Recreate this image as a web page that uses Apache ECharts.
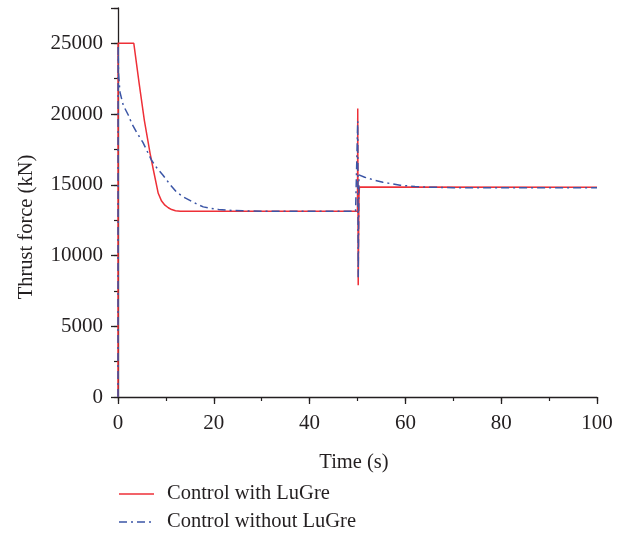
<!DOCTYPE html>
<html>
<head>
<meta charset="utf-8">
<script src="https://cdn.jsdelivr.net/npm/echarts@6/dist/echarts.min.js"></script>
<style>
  html, body { margin: 0; padding: 0; background: #fff; }
  #chart { width: 620px; height: 535px; }
</style>
</head>
<body>
<div id="chart"></div>
<script>
// Thrust force response, with and without LuGre friction compensation
const timeWith = [0, 0.02, 3.3, 4.4, 5.5, 6.2, 6.7, 7.4, 8.4, 9.1, 9.8, 10.5, 11.2, 12, 13, 50, 50.05, 50.15, 50.3, 50.4, 100];
const thrustWith = [0, 25000, 25000, 22200, 19560, 18200, 17230, 16030, 14400, 13850, 13560, 13380, 13250, 13170, 13135, 13135, 20400, 7900, 14100, 14850, 14830];

const timeWithout = [0, 0.03, 0.1, 0.4, 1.1, 2.2, 2.85, 4, 5.2, 7, 8.2, 9.4, 10.8, 12.2, 13.6, 15, 16.4, 17.8, 19.2, 21, 23, 26, 30, 49.6, 49.9, 50, 50.05, 50.15, 50.3, 50.5, 51.5, 53.3, 55.3, 58.9, 62, 65, 70, 100];
const thrustWithout = [0, 24800, 22900, 21560, 20620, 19900, 19350, 18650, 18000, 16740, 16150, 15680, 15050, 14500, 14150, 13900, 13650, 13440, 13340, 13260, 13200, 13160, 13140, 13135, 13200, 13100, 19500, 8470, 15700, 15680, 15540, 15350, 15180, 14970, 14880, 14830, 14800, 14800];

const seriesNames = ['Control with LuGre', 'Control without LuGre'];
const xTitle = 'Time (s)';
const yTitle = 'Thrust force (kN)';

const zip = (a, b) => a.map((t, i) => [t, b[i]]);

const FONT = 'Liberation Serif';
const INK = '#231f20';
const RED = '#ee2f37';
const BLUE = '#3b55a6';
const DASH_DOT = [8, 4, 2, 4];
const TITLE_SIZE = 20.5;
const TICK_SIZE = 21;

const chart = echarts.init(document.getElementById('chart'), null, { renderer: 'canvas' });

const axisLine = { show: true, lineStyle: { color: INK, width: 1.3 } };

// Legend keys drawn as plain line samples with text
function legendItem(y, label, color, dash) {
  return [
    {
      type: 'line', silent: true,
      shape: { x1: 119, y1: y, x2: 154, y2: y },
      style: { stroke: color, lineWidth: 1.5, lineDash: dash || null }
    },
    {
      type: 'text', silent: true,
      style: { text: label, x: 167, y: y, fontFamily: FONT, fontSize: TITLE_SIZE, fill: INK, align: 'left', verticalAlign: 'middle' }
    }
  ];
}

chart.setOption({
  animation: false,
  backgroundColor: '#fff',
  grid: { left: 118, right: 23, top: 8, bottom: 138, containLabel: false },
  xAxis: [
    {
      type: 'value', min: 0, max: 100, interval: 20,
      axisLine: axisLine,
      axisTick: { show: true, length: 7, inside: false, lineStyle: { color: INK, width: 1.3 } },
      axisLabel: { fontFamily: FONT, fontSize: TICK_SIZE, color: INK, margin: 16 },
      splitLine: { show: false }
    },
    {
      type: 'value', min: 0, max: 100, interval: 10, position: 'bottom',
      axisLine: { show: false },
      axisTick: { show: true, length: 4, lineStyle: { color: INK, width: 1.2 } },
      axisLabel: { show: false },
      splitLine: { show: false }
    }
  ],
  yAxis: [
    {
      type: 'value', min: 0, max: 27500, interval: 5000,
      axisLine: axisLine,
      axisTick: { show: true, length: 7, lineStyle: { color: INK, width: 1.3 } },
      axisLabel: {
        fontFamily: FONT, fontSize: TICK_SIZE, color: INK, margin: 15,
        formatter: v => (v % 5000 === 0 ? String(v) : '')
      },
      splitLine: { show: false }
    },
    {
      type: 'value', min: 0, max: 27500, interval: 2500, position: 'left',
      axisLine: { show: false },
      axisTick: { show: true, length: 4, lineStyle: { color: INK, width: 1.2 } },
      axisLabel: { show: false },
      splitLine: { show: false }
    }
  ],
  graphic: [
    {
      type: 'text', x: 354, y: 463,
      style: { text: xTitle, x: 0, y: 0, fontFamily: FONT, fontSize: TITLE_SIZE, fill: INK, align: 'center', verticalAlign: 'middle' }
    },
    {
      type: 'text', x: 27, y: 227, rotation: Math.PI / 2,
      style: { text: yTitle, x: 0, y: 0, fontFamily: FONT, fontSize: TITLE_SIZE, fill: INK, align: 'center', verticalAlign: 'middle' }
    },
    ...legendItem(494, seriesNames[0], RED, null),
    ...legendItem(522, seriesNames[1], BLUE, DASH_DOT)
  ],
  series: [
    {
      name: seriesNames[1], type: 'line', data: zip(timeWithout, thrustWithout),
      xAxisIndex: 0, yAxisIndex: 0,
      showSymbol: false, symbol: 'none',
      lineStyle: { color: BLUE, width: 1.5, type: DASH_DOT },
      itemStyle: { color: BLUE },
      z: 3
    },
    {
      name: seriesNames[0], type: 'line', data: zip(timeWith, thrustWith),
      xAxisIndex: 0, yAxisIndex: 0,
      showSymbol: false, symbol: 'none',
      lineStyle: { color: RED, width: 1.5 },
      itemStyle: { color: RED },
      z: 2
    }
  ]
});
</script>
</body>
</html>
